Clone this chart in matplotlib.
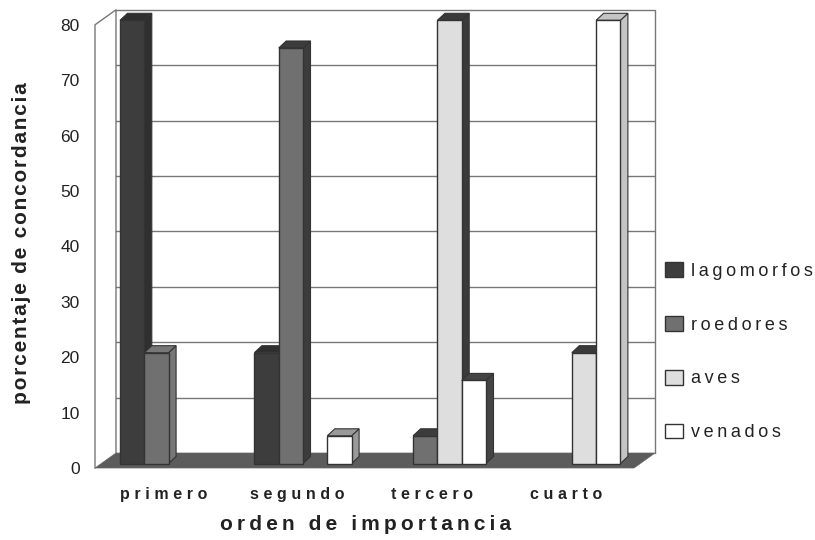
import matplotlib
matplotlib.use("Agg")
import matplotlib.pyplot as plt
from matplotlib.patches import Patch, Polygon

plt.rcParams["font.family"] = ["Liberation Sans", "DejaVu Sans"]

categories = ["primero", "segundo", "tercero", "cuarto"]
series_names = ["lagomorfos", "roedores", "aves", "venados"]
lagomorfos = [80, 20, 0, 0]
roedores = [20, 75, 5, 0]
aves = [0, 0, 80, 20]
venados = [0, 5, 15, 80]
y_ticks = [0, 10, 20, 30, 40, 50, 60, 70, 80]

TEXT = "#222222"
front_colors = ["#3d3d3d", "#707070", "#dedede", "#ffffff"]
side_colors = ["#2f2f2f", "#3c3c3c", "#3a3a3a", "#444444"]
# the scan shades a few side faces differently
side_override = {(1, 0): "#777777", (3, 1): "#9a9a9a", (3, 3): "#c4c4c4"}

# scales, one x unit is one group, one y unit is one percent
PX_X = 134.4
PX_Y = 5.54
SLOT = 24.3 / PX_X
BASE = 4.5 / PX_Y
BAR_DX = 7.5 / PX_X
BAR_DY = 7 / PX_Y
WALL_DX = 21 / PX_X
WALL_DY = 15 / PX_Y


def spaced(label, sep="\u200a"):
    # the original sets its labels with wide letter spacing
    return sep.join(label)


def draw_bar(ax, x, value, s, g):
    side = side_override.get((s, g), side_colors[s])
    y0 = BASE
    y1 = BASE + value
    x1 = x + SLOT
    edge = "#333333"
    ax.add_patch(Polygon([(x1, y0), (x1 + BAR_DX, y0 + BAR_DY), (x1 + BAR_DX, y1 + BAR_DY), (x1, y1)],
                         facecolor=side, edgecolor=edge, lw=0.8, zorder=3, clip_on=False))
    ax.add_patch(Polygon([(x, y1), (x + BAR_DX, y1 + BAR_DY), (x1 + BAR_DX, y1 + BAR_DY), (x1, y1)],
                         facecolor=side, edgecolor=edge, lw=0.8, zorder=3, clip_on=False))
    ax.bar(x, value, SLOT, bottom=y0, align="edge", color=front_colors[s],
           edgecolor=edge, lw=1.0, zorder=3, clip_on=False)


fig = plt.figure(figsize=(8.15, 5.4), dpi=100)
ax = fig.add_axes([95 / 815, (540 - 468) / 540, (655 - 95) / 815, (468 - 11) / 540])
x_left = (95 - 168.6) / PX_X
x_right = (655 - 168.6) / PX_X
ax.set_xlim(x_left, x_right)
ax.set_ylim(0, 457 / PX_Y)
ax.patch.set_visible(False)
for spine in ax.spines.values():
    spine.set_visible(False)

front_right = x_right - WALL_DX
y_top = 80
wall_x = x_left + WALL_DX

# floor
ax.add_patch(Polygon([(x_left, 0), (wall_x, WALL_DY), (x_right, WALL_DY), (front_right, 0)],
                     facecolor="#5c5c5c", edgecolor="#666666", lw=0.5, zorder=2, clip_on=False))

# back wall, side wall and grid
wall_top = y_top + WALL_DY
ax.plot([x_left, x_left, wall_x, wall_x], [0, y_top, wall_top, WALL_DY], color="#777777", lw=1.0,
        zorder=1, clip_on=False)
ax.plot([wall_x, x_right, x_right], [wall_top, wall_top, WALL_DY], color="#777777", lw=1.0,
        zorder=1, clip_on=False)
for v in y_ticks[1:-1]:
    ax.plot([wall_x, x_right], [v + WALL_DY, v + WALL_DY], color="#777777", lw=1.0, zorder=1)

# bars, left to right so each front hides the side of the one before
all_series = [lagomorfos, roedores, aves, venados]
for g in range(len(categories)):
    for s, values in enumerate(all_series):
        if values[g] > 0:
            draw_bar(ax, g + (s - 2) * SLOT, values[g], s, g)

ax.set_yticks(y_ticks)
ax.set_yticklabels([str(v) for v in y_ticks], fontsize=12.5, color=TEXT)
ax.set_xticks([i - 0.04 for i in range(len(categories))])
ax.set_xticklabels([spaced(c, "\u2009\u200a") for c in categories], fontsize=11.5, fontweight="bold", color=TEXT)
ax.tick_params(axis="y", length=0, pad=11)
ax.tick_params(axis="x", length=0, pad=14)

fig.text(366 / 815, 1 - 525 / 540, spaced("orden de importancia", "\u2009"), fontsize=15, fontweight="bold",
         color=TEXT, ha="center", va="center")
fig.text(22 / 815, 1 - 243 / 540, spaced("porcentaje de concordancia"), fontsize=15, fontweight="bold",
         color=TEXT, rotation=90, ha="center", va="center")

handles = [Patch(facecolor=c, edgecolor="#333333", lw=1.0) for c in front_colors]
fig.legend(handles, [spaced(n, "\u2009") for n in series_names], loc="upper left",
           bbox_to_anchor=(665 / 815, 1 - 262 / 540), frameon=False, fontsize=13,
           labelcolor=TEXT, handlelength=1.0, handleheight=0.9, handletextpad=0.45,
           labelspacing=2.0, borderpad=0, borderaxespad=0)

fig.savefig("out.png", dpi=100)
